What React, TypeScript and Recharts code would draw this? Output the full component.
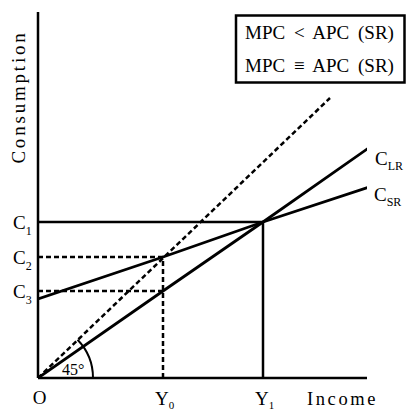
import React from 'react';
import { ComposedChart, Line, XAxis, YAxis, ReferenceLine, ReferenceDot } from 'recharts';

// income levels (x) and consumption levels (y), in chart units
const incomeTicks = [0, 125, 225];
const incomeLabels = ['O', 'Y', 'Y'];
const incomeSubs = ['', '0', '1'];
const consTicks = [87, 121, 156];
const consSubs = ['3', '2', '1'];

const longRun = [
  { x: 0, y: 0 },
  { x: 125, y: 87 },
  { x: 225, y: 156 },
  { x: 332, y: 231 },
];
const shortRun = [
  { x: 0, y: 79 },
  { x: 125, y: 121 },
  { x: 225, y: 156 },
  { x: 334, y: 192 },
];
const line45 = [
  { x: 0, y: 0 },
  { x: 292, y: 280 },
];

const legendLines = ['MPC < APC (SR)', 'MPC \u2261 APC (SR)'];

const FONT = '"Liberation Serif", "Times New Roman", serif';

const YTick = (props: any) => {
  const { x, y, index } = props;
  return (
    <text x={x - 25} y={y + 6.5} fontFamily={FONT} fill="#000">
      <tspan fontSize={19}>C</tspan>
      <tspan fontSize={12} dy={6}>{consSubs[index]}</tspan>
    </text>
  );
};

const XTick = (props: any) => {
  const { x, y, index } = props;
  if (index === 0) {
    return (
      <text x={x + 1.5} y={y + 26} textAnchor="middle" fontFamily={FONT} fontSize={19} fill="#000">
        O
      </text>
    );
  }
  return (
    <text x={x - 8} y={y + 27} fontFamily={FONT} fill="#000">
      <tspan fontSize={19}>{incomeLabels[index]}</tspan>
      <tspan fontSize={11} dy={4}>{incomeSubs[index]}</tspan>
    </text>
  );
};

const endLabel = (name: string, sub: string, last: number, dx: number, dy: number) => (props: any) => {
  const { x, y, index } = props;
  if (index !== last) return null;
  return (
    <text key={name} x={x + dx} y={y + dy} fontFamily={FONT} fill="#000">
      <tspan fontSize={19}>C</tspan>
      <tspan fontSize={12} dy={5}>{sub}</tspan>
    </text>
  );
};

// 45 degree arc marker drawn around the origin
const AngleMark = (props: any) => {
  const { cx, cy } = props;
  const r = 55;
  const a = (44 * Math.PI) / 180;
  const ex = cx + r * Math.cos(a);
  const ey = cy - r * Math.sin(a);
  return (
    <g>
      <path d={`M ${cx + r} ${cy} A ${r} ${r} 0 0 0 ${ex} ${ey}`} fill="none" stroke="#000" strokeWidth={2} />
      <text x={cx + 24} y={cy - 3} fontFamily={FONT} fontSize={16} fill="#000">45°</text>
    </g>
  );
};

export default function App() {
  return (
    <div style={{ position: 'absolute', left: 0, top: 0, width: 406, height: 412, background: '#fff' }}>
      <ComposedChart width={406} height={412} margin={{ top: 12, right: 39, bottom: 4, left: 8 }}>
        <XAxis
          type="number"
          dataKey="x"
          domain={[0, 329]}
          allowDataOverflow
          ticks={incomeTicks}
          tick={<XTick />}
          tickLine={false}
          tickSize={0}
          tickMargin={0}
          height={30}
          axisLine={{ stroke: '#000', strokeWidth: 2.5 }}
          label={{
            content: (p: any) => (
              <text
                x={p.viewBox.x + p.viewBox.width - 60}
                y={p.viewBox.y + 27}
                fontFamily={FONT}
                fontSize={18.5}
                letterSpacing={2.6}
                fill="#000"
              >
                Income
              </text>
            ),
          }}
        />
        <YAxis
          type="number"
          dataKey="y"
          domain={[0, 366]}
          allowDataOverflow
          ticks={consTicks}
          tick={<YTick />}
          tickLine={false}
          tickSize={0}
          tickMargin={0}
          width={30}
          axisLine={{ stroke: '#000', strokeWidth: 2.5 }}
          label={{
            content: (p: any) => (
              <text
                x={25}
                y={p.viewBox.y + 85}
                transform={`rotate(-90, 25, ${p.viewBox.y + 85})`}
                textAnchor="middle"
                fontFamily={FONT}
                fontSize={19}
                letterSpacing={2.8}
                fill="#000"
              >
                Consumption
              </text>
            ),
          }}
        />

        <ReferenceLine segment={[{ x: 0, y: consTicks[2] }, { x: incomeTicks[2], y: consTicks[2] }]} stroke="#000" strokeWidth={2.5} />
        <ReferenceLine segment={[{ x: incomeTicks[2], y: 0 }, { x: incomeTicks[2], y: consTicks[2] }]} stroke="#000" strokeWidth={2.5} />
        <ReferenceLine segment={[{ x: 0, y: consTicks[1] }, { x: incomeTicks[1], y: consTicks[1] }]} stroke="#000" strokeWidth={2.5} strokeDasharray="5 3" />
        <ReferenceLine segment={[{ x: 0, y: consTicks[0] }, { x: incomeTicks[1], y: consTicks[0] }]} stroke="#000" strokeWidth={2.5} strokeDasharray="5 3" />
        <ReferenceLine segment={[{ x: incomeTicks[1], y: 0 }, { x: incomeTicks[1], y: consTicks[1] }]} stroke="#000" strokeWidth={2.5} strokeDasharray="5 3" />

        <Line data={line45} dataKey="y" type="linear" stroke="#000" strokeWidth={2.5} strokeDasharray="5 3" dot={false} isAnimationActive={false} />
        <Line
          data={longRun}
          dataKey="y"
          type="linear"
          stroke="#000"
          strokeWidth={2.8}
          dot={false}
          isAnimationActive={false}
          label={endLabel('lr', 'LR', longRun.length - 1, 5, 18)}
        />
        <Line
          data={shortRun}
          dataKey="y"
          type="linear"
          stroke="#000"
          strokeWidth={2.8}
          dot={false}
          isAnimationActive={false}
          label={endLabel('sr', 'SR', shortRun.length - 1, 2, 15)}
        />
        <ReferenceDot x={0} y={0} r={0} shape={<AngleMark />} />
      </ComposedChart>

      <svg width={406} height={412} style={{ position: 'absolute', left: 0, top: 0, pointerEvents: 'none' }}>
        <rect x={236} y={15.5} width={168.5} height={67} fill="#fff" stroke="#000" strokeWidth={2.5} />
        {legendLines.map((t, i) => (
          <text key={t} x={245} y={38.5 + i * 33.5} fontFamily={FONT} fontSize={19} wordSpacing={4} fill="#000">
            {t}
          </text>
        ))}
      </svg>
    </div>
  );
}
